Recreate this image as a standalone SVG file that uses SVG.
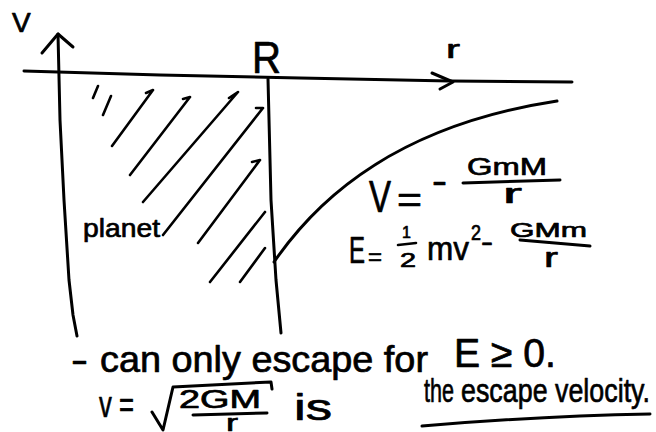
<svg xmlns="http://www.w3.org/2000/svg" width="656" height="432" viewBox="0 0 656 432">
<style>
.ink{fill:none;stroke:#000;stroke-width:3;stroke-linecap:round;stroke-linejoin:round}
.thin{fill:none;stroke:#000;stroke-width:2.6;stroke-linecap:round;stroke-linejoin:round}
text{font-family:"Liberation Sans","DejaVu Sans",sans-serif;fill:#000;stroke:#000;stroke-width:0.7;stroke-linejoin:round}
</style>
<rect width="656" height="432" fill="#fff"/>
<g id="axes">
<path class="ink" d="M58,34 L60,120 L64,200 L69,280 L73,315 L77,336"/>
<path class="ink" d="M42,53 L58,34 L73,47"/>
<path class="ink" d="M24,71 L160,75 L300,78 L450,81 L572,82"/>
<path class="ink" d="M432,73 L453,82 L440,89"/>
<text x="12" y="32" font-size="28">V</text>
<text x="446" y="58" font-size="26" textLength="14" lengthAdjust="spacingAndGlyphs">r</text>
<text x="252" y="73" font-size="44" textLength="29" lengthAdjust="spacingAndGlyphs">R</text>
</g>
<g id="planet">
<path class="ink" d="M268,79 L271,200 L276,280 L281,333"/>
<path class="thin" d="M93,98 L98,86 M103,115 L111,96 M112,146 L153,90 L146,93 M130,175 L190,97 L183,99 M143,202 L238,92 L229,98 M163,235 L263,108 L256,108 M198,243 L260,160 L252,162 M210,282 L265,212 M240,282 L265,248"/>
<text x="83" y="237" font-size="26" textLength="77" lengthAdjust="spacingAndGlyphs">planet</text>
</g>
<g id="curve">
<path class="ink" d="M274,262 C320,195 400,125 557,101"/>
</g>
<g id="potential">
<text x="369" y="212" font-size="44" textLength="22" lengthAdjust="spacingAndGlyphs">V</text>
<text x="397" y="212" font-size="36" textLength="25" lengthAdjust="spacingAndGlyphs">=</text>
<text x="432" y="193" font-size="36" textLength="15" lengthAdjust="spacingAndGlyphs">-</text>
<text x="467" y="175" font-size="24" textLength="80" lengthAdjust="spacingAndGlyphs">GmM</text>
<path class="ink" d="M463,183 L560,180"/>
<text x="503" y="203" font-size="28" textLength="19" lengthAdjust="spacingAndGlyphs">r</text>
</g>
<g id="energy">
<text x="349" y="263" font-size="36" textLength="16" lengthAdjust="spacingAndGlyphs">E</text>
<text x="368" y="265" font-size="24" textLength="14" lengthAdjust="spacingAndGlyphs">=</text>
<text x="402" y="238" font-size="16">1</text>
<path class="thin" d="M398,245 L416,243"/>
<text x="400" y="267" font-size="20" textLength="16" lengthAdjust="spacingAndGlyphs">2</text>
<text x="427" y="260" font-size="34" textLength="42" lengthAdjust="spacingAndGlyphs">mv</text>
<text x="471" y="240" font-size="22" textLength="10" lengthAdjust="spacingAndGlyphs">2</text>
<text x="481" y="251" font-size="28" textLength="12" lengthAdjust="spacingAndGlyphs">-</text>
<text x="510" y="237" font-size="21" textLength="77" lengthAdjust="spacingAndGlyphs">GMm</text>
<path class="ink" d="M520,240 L590,246"/>
<text x="544" y="267" font-size="28" textLength="14" lengthAdjust="spacingAndGlyphs">r</text>
</g>
<g id="notes">
<text x="71" y="372" font-size="36" textLength="17" lengthAdjust="spacingAndGlyphs">-</text>
<text x="100" y="372" font-size="36" textLength="328" lengthAdjust="spacingAndGlyphs">can only escape for</text>
<text x="454" y="367" font-size="40" textLength="102" lengthAdjust="spacingAndGlyphs">E ≥ 0.</text>
<text x="99" y="417" font-size="36" textLength="35" lengthAdjust="spacingAndGlyphs">v =</text>
<path class="ink" d="M152,412 L163,430 L173,387 L271,382 L272,389"/>
<text x="179" y="408" font-size="25" textLength="82" lengthAdjust="spacingAndGlyphs">2GM</text>
<path class="ink" d="M193,415 L267,413"/>
<text x="226" y="431" font-size="24" textLength="12" lengthAdjust="spacingAndGlyphs">r</text>
<text x="294" y="420" font-size="36" textLength="38" lengthAdjust="spacingAndGlyphs">is</text>
<text x="424" y="402" font-size="34" textLength="30" lengthAdjust="spacingAndGlyphs">the</text>
<text x="461" y="402" font-size="34" textLength="189" lengthAdjust="spacingAndGlyphs">escape velocity.</text>
<path class="ink" d="M422,426 Q540,416 650,414"/>
</g>
</svg>
